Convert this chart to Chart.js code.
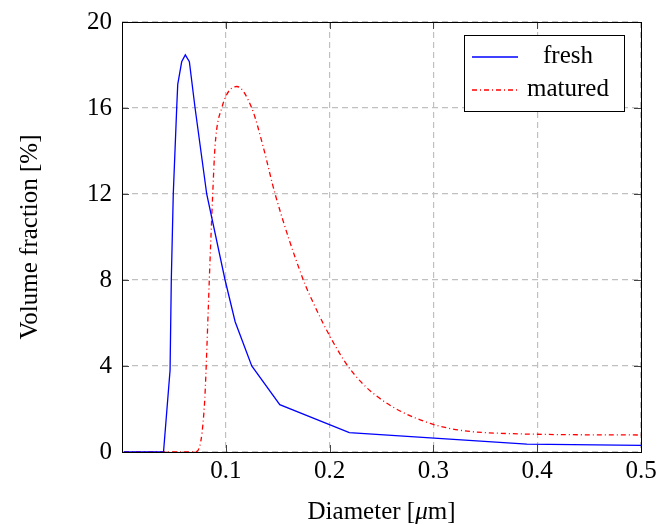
<!DOCTYPE html>
<html>
<head>
<meta charset="utf-8">
<script src="https://cdn.jsdelivr.net/npm/chart.js@4.4.0/dist/chart.umd.min.js"></script>
<style>
  body { margin: 0; background: #fff; }
</style>
</head>
<body>
<canvas id="sizeChart" width="670" height="525"></canvas>
<script>
// particle size distributions
const diameterFresh = [0.002, 0.040, 0.0463, 0.0475, 0.0494, 0.0527, 0.0537, 0.0575, 0.061, 0.0649, 0.0704, 0.0816, 0.0993, 0.109, 0.125, 0.152, 0.219, 0.39, 0.5];
const fresh = [0, 0, 3.8, 8.0, 12, 16, 17.1, 18.15, 18.47, 18.15, 16, 12, 8, 6.06, 4.0, 2.2, 0.9, 0.37, 0.31];

const diameterMatured = [0.002, 0.0704, 0.0793, 0.0832, 0.0841, 0.0874, 0.0896, 0.0961, 0.1106, 0.125, 0.136, 0.1475, 0.1747, 0.186, 0.199, 0.218, 0.244, 0.297, 0.364, 0.5];
const matured = [0, 0, 2.1, 6.76, 8, 12, 14.2, 16, 17.0, 16, 14.2, 12, 8, 6.76, 5.5, 3.97, 2.65, 1.33, 0.87, 0.79];

const xTicks = [0.1, 0.2, 0.3, 0.4, 0.5];
const yTicks = [0, 4, 8, 12, 16, 20];

const serif = '"Liberation Serif", "Times New Roman", serif';

function toPoints(xs, ys) {
    return xs.map((x, i) => ({ x: x, y: ys[i] }));
}

// frame, inward tick marks, axis titles and legend box in pgfplots style
const pgfDecor = {
    id: 'pgfDecor',
    afterDraw(chart) {
        const ctx = chart.ctx;
        const a = chart.chartArea;
        const xs = chart.scales.x, ys = chart.scales.y;
        ctx.save();

        // inward ticks
        ctx.strokeStyle = '#444';
        ctx.lineWidth = 1;
        ctx.setLineDash([]);
        ctx.beginPath();
        xTicks.forEach(v => {
            const px = Math.round(xs.getPixelForValue(v)) + 0.5;
            ctx.moveTo(px, a.bottom); ctx.lineTo(px, a.bottom - 7);
            ctx.moveTo(px, a.top); ctx.lineTo(px, a.top + 7);
        });
        yTicks.forEach(v => {
            const py = Math.round(ys.getPixelForValue(v)) + 0.5;
            ctx.moveTo(a.left, py); ctx.lineTo(a.left + 7, py);
            ctx.moveTo(a.right, py); ctx.lineTo(a.right - 7, py);
        });
        ctx.stroke();

        // frame
        ctx.strokeStyle = '#000';
        ctx.strokeRect(Math.round(a.left) + 0.5, Math.round(a.top) + 0.5,
            Math.round(a.right - a.left), Math.round(a.bottom - a.top));

        // axis titles
        ctx.fillStyle = '#000';
        ctx.textBaseline = 'middle';
        ctx.font = '25px ' + serif;
        ctx.save();
        ctx.translate(30, (a.top + a.bottom) / 2);
        ctx.rotate(-Math.PI / 2);
        ctx.textAlign = 'center';
        ctx.fillText('Volume fraction [%]', 0, 0);
        ctx.restore();

        const parts = [
            ['Diameter [', '25px ' + serif],
            ['\u03bc', 'italic 25px ' + serif],
            ['m]', '25px ' + serif]
        ];
        let total = 0;
        parts.forEach(p => { ctx.font = p[1]; total += ctx.measureText(p[0]).width; });
        let cx = (a.left + a.right) / 2 - total / 2;
        ctx.textAlign = 'left';
        parts.forEach(p => {
            ctx.font = p[1];
            ctx.fillText(p[0], cx, 512);
            cx += ctx.measureText(p[0]).width;
        });

        // legend
        const bx = 464.5, by = 35.5, bw = 160, bh = 76;
        ctx.fillStyle = '#fff';
        ctx.fillRect(bx, by, bw, bh);
        ctx.strokeStyle = '#000';
        ctx.strokeRect(bx, by, bw, bh);
        const rows = [57, 90];
        chart.data.datasets.forEach((ds, i) => {
            ctx.strokeStyle = ds.borderColor;
            ctx.lineWidth = ds.borderWidth;
            ctx.setLineDash(ds.borderDash || []);
            ctx.beginPath();
            ctx.moveTo(472, rows[i]);
            ctx.lineTo(518, rows[i]);
            ctx.stroke();
            ctx.setLineDash([]);
            ctx.fillStyle = '#000';
            ctx.font = '25px ' + serif;
            ctx.textAlign = 'center';
            ctx.fillText(ds.label, 568, rows[i] - 1);
        });

        ctx.restore();
    }
};

new Chart(document.getElementById('sizeChart'), {
    type: 'scatter',
    data: {
        datasets: [{
            label: 'fresh',
            data: toPoints(diameterFresh, fresh),
            showLine: true,
            borderColor: '#0000ff',
            borderWidth: 1.3,
            pointRadius: 0,
            tension: 0
        }, {
            label: 'matured',
            data: toPoints(diameterMatured, matured),
            showLine: true,
            borderColor: '#ff0000',
            borderWidth: 1.3,
            borderDash: [5, 3, 1, 3],
            pointRadius: 0,
            cubicInterpolationMode: 'monotone'
        }]
    },
    options: {
        responsive: false,
        animation: false,
        layout: {
            padding: { top: 22, right: 29, left: 0, bottom: 0 }
        },
        plugins: {
            legend: { display: false },
            tooltip: { enabled: false }
        },
        scales: {
            x: {
                type: 'linear',
                min: 0,
                max: 0.5,
                afterBuildTicks: scale => {
                    scale.ticks = xTicks.map(v => ({ value: v }));
                },
                afterFit: scale => { scale.height = 73; },
                border: { display: false, dash: [6, 4] },
                grid: {
                    color: '#c0c0c0',
                    lineWidth: 1.2,
                    drawTicks: false
                },
                ticks: {
                    color: '#000',
                    padding: 4,
                    font: { family: serif, size: 25 },
                    callback: v => v.toFixed(1)
                }
            },
            y: {
                min: 0,
                max: 20,
                afterBuildTicks: scale => {
                    scale.ticks = yTicks.map(v => ({ value: v }));
                },
                afterFit: scale => {
                    scale.width = 122;
                    scale.paddingTop = 0;
                    scale.paddingBottom = 0;
                },
                border: { display: false, dash: [6, 4] },
                grid: {
                    color: '#c0c0c0',
                    lineWidth: 1.2,
                    drawTicks: false
                },
                ticks: {
                    color: '#000',
                    padding: 10,
                    font: { family: serif, size: 25 }
                }
            }
        }
    },
    plugins: [pgfDecor]
});
</script>
</body>
</html>
